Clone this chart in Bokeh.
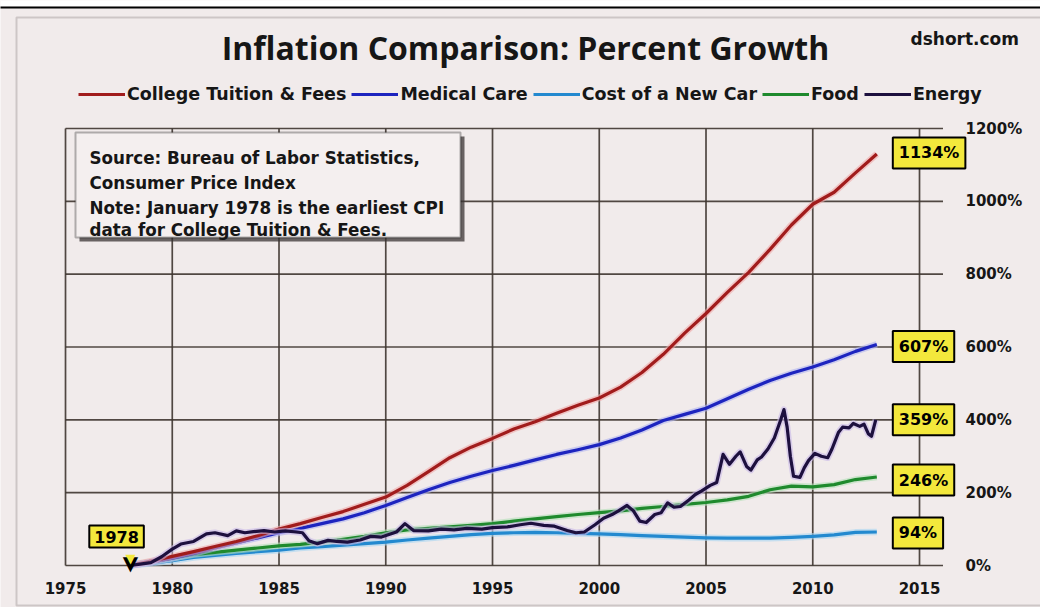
from bokeh.plotting import figure
from bokeh.models import Range1d, FixedTicker, Label, BoxAnnotation, Legend, LegendItem
from bokeh.embed import file_html
from bokeh.resources import INLINE

# ---------------- data (percent growth since Jan 1978) ----------------
years = [1978, 1979, 1980, 1981, 1982, 1983, 1984, 1985, 1986, 1987, 1988, 1989,
         1990, 1991, 1992, 1993, 1994, 1995, 1996, 1997, 1998, 1999, 2000, 2001,
         2002, 2003, 2004, 2005, 2006, 2007, 2008, 2009, 2010, 2011, 2012, 2013]
college = [0, 12, 25, 38, 52, 66, 82, 100, 115, 132, 148, 168,
           188, 220, 258, 296, 325, 349, 375, 395, 418, 440, 460, 490,
           530, 580, 638, 692, 750, 805, 868, 935, 992, 1025, 1078, 1130]
medical = [0, 9, 20, 33, 48, 62, 76, 90, 102, 115, 128, 145,
           165, 187, 208, 228, 245, 261, 275, 290, 305, 318, 332, 350,
           372, 398, 415, 432, 458, 484, 508, 528, 545, 565, 588, 607]
new_car = [0, 6, 13, 22, 28, 33, 38, 42, 48, 52, 56, 60,
           64, 70, 75, 80, 85, 88, 90, 91, 90, 88, 87, 85,
           82, 80, 78, 76, 75, 75, 75, 77, 80, 84, 91, 92]
food = [0, 10, 20, 30, 36, 42, 48, 54, 58, 64, 72, 80,
        90, 98, 102, 106, 110, 115, 122, 128, 134, 140, 145, 150,
        157, 162, 168, 173, 180, 190, 208, 218, 216, 222, 236, 243]
energy_years = [1978.0, 1978.5, 1979.0, 1979.5, 1980.0, 1980.4, 1981.0, 1981.6, 1982.0, 1982.6,
                1983.0, 1983.4, 1983.8, 1984.3, 1984.8, 1985.3, 1985.8, 1986.1, 1986.4, 1986.8,
                1987.3, 1987.7, 1988.2, 1988.8, 1989.3, 1989.8, 1990.5, 1990.9, 1991.3, 1992.0,
                1992.6, 1993.2, 1993.8, 1994.5, 1995.0, 1995.7, 1996.3, 1996.8, 1997.4, 1997.9,
                1998.5, 1998.9, 1999.3, 1999.8, 2000.2, 2000.6, 2000.9, 2001.3, 2001.6, 2001.9,
                2002.2, 2002.6, 2002.9, 2003.2, 2003.5, 2003.8, 2004.2, 2004.5, 2004.8, 2005.2,
                2005.5, 2005.8, 2006.1, 2006.4, 2006.6, 2006.9, 2007.1, 2007.4, 2007.6, 2007.9,
                2008.2, 2008.5, 2008.65, 2008.8, 2008.95, 2009.1, 2009.4, 2009.6, 2009.8, 2010.1,
                2010.4, 2010.7, 2010.9, 2011.2, 2011.4, 2011.7, 2011.9, 2012.2, 2012.4, 2012.6,
                2012.75, 2012.95]
energy = [0, 4, 8, 24, 45, 59, 66, 87, 90, 82,
          95, 90, 93, 96, 92, 95, 92, 90, 68, 60,
          69, 66, 64, 70, 80, 78, 92, 115, 96, 95,
          100, 98, 102, 100, 104, 106, 112, 116, 110, 108,
          96, 90, 92, 112, 130, 140, 150, 165, 150, 122,
          118, 140, 145, 172, 160, 162, 180, 195, 205, 220,
          228, 305, 278, 300, 312, 272, 262, 290, 298, 320,
          350, 400, 428, 380, 300, 245, 242, 268, 288, 308,
          300, 296, 320, 365, 380, 378, 390, 382, 388, 362,
          355, 400]

series_names = ["College Tuition & Fees", "Medical Care", "Cost of a New Car", "Food", "Energy"]
end_labels = ["1134%", "607%", "359%", "246%", "94%"]
start_label = "1978"
year_ticks = [1975, 1980, 1985, 1990, 1995, 2000, 2005, 2010, 2015]
pct_ticks = [0, 200, 400, 600, 800, 1000, 1200]
pct_tick_labels = ["0%", "200%", "400%", "600%", "800%", "1000%", "1200%"]

# ---------------- styling ----------------
BG = "#f1ebeb"
GRID = "#3e3530"
TXT = "#161616"
colors = {"College Tuition & Fees": "#a11c1c", "Medical Care": "#1d24bf",
          "Cost of a New Car": "#2389cf", "Food": "#1f8a2d", "Energy": "#1d103e"}
halo = {"College Tuition & Fees": "#f0a8a8", "Medical Care": "#b0b4f0",
        "Cost of a New Car": "#a8d6f2", "Food": "#b4e0b8", "Energy": "#c8b8e8"}
YELLOW = "#f3e83c"
GRID_RIGHT = 2016.1   # right end of the horizontal grid lines
FH = 607              # frame height (frame covers the whole canvas)

p = figure(width=1040, height=607, output_backend="svg", toolbar_location=None,
           title_location=None,
           x_range=Range1d(1971.955, 2020.667), y_range=Range1d(-115.33, 1551.5),
           y_axis_location="right", min_border_left=0, min_border_right=0,
           min_border_top=0, min_border_bottom=0)
p.background_fill_color = BG
p.border_fill_color = BG
p.outline_line_color = None
p.xgrid.visible = False
p.ygrid.visible = False

# axes (labels pulled back over the frame with negative standoffs)
p.xaxis.ticker = FixedTicker(ticks=year_ticks)
p.yaxis.ticker = FixedTicker(ticks=pct_ticks)
p.yaxis.major_label_overrides = {t: l for t, l in zip(pct_ticks, pct_tick_labels)}
for ax in (p.xaxis[0], p.yaxis[0]):
    ax.axis_line_color = None
    ax.major_tick_line_color = None
    ax.minor_tick_line_color = None
    ax.major_tick_out = 0
    ax.major_tick_in = 0
    ax.major_label_text_font = "DejaVu Sans"
    ax.major_label_text_font_style = "bold"
    ax.major_label_text_font_size = "15px"
    ax.major_label_text_color = TXT
p.xaxis.major_label_standoff = -26
p.yaxis.major_label_standoff = -75

# grid lines (from the tick arrays)
p.segment(x0=year_ticks, x1=year_ticks, y0=[pct_ticks[0]] * len(year_ticks),
          y1=[pct_ticks[-1]] * len(year_ticks), line_color=GRID, line_width=1.7, line_alpha=0.9)
p.segment(x0=[year_ticks[0]] * len(pct_ticks), x1=[GRID_RIGHT] * len(pct_ticks),
          y0=pct_ticks, y1=pct_ticks, line_color=GRID, line_width=1.7, line_alpha=0.9)

# outer decorations (screen units: frame bottom-left origin, y up)
def sbox(**kw):
    return BoxAnnotation(left_units="screen", right_units="screen", top_units="screen",
                         bottom_units="screen", **kw)

p.add_layout(sbox(left=16, right=1100, top=FH - 17, bottom=FH - 605, fill_alpha=0,
                  line_color="#7a6f6f", line_width=2, level="underlay"))
p.add_layout(sbox(left=-5, right=1100, top=FH + 20, bottom=FH - 6, fill_color="white",
                  fill_alpha=1, line_color=None, level="underlay"))
p.add_layout(sbox(left=-5, right=1100, top=FH - 6, bottom=FH - 8, fill_color="black",
                  fill_alpha=1, line_color=None, level="underlay"))

# lines
renderers = {}
draw_order = ["Cost of a New Car", "Food", "Medical Care", "College Tuition & Fees", "Energy"]
data = {"College Tuition & Fees": (years, college), "Medical Care": (years, medical),
        "Cost of a New Car": (years, new_car), "Food": (years, food), "Energy": (energy_years, energy)}
for name in draw_order:
    xs, ys = data[name]
    p.line(xs, ys, line_color=halo[name], line_width=6.5, line_alpha=0.6, line_join="round")
    renderers[name] = p.line(xs, ys, line_color=colors[name], line_width=3.2, line_join="round")

# legend (location = bottom-left corner, frame coordinates)
legend = Legend(items=[LegendItem(label=n, renderers=[renderers[n]]) for n in series_names],
                location=(78, FH - 104), orientation="horizontal", glyph_width=47, glyph_height=20,
                label_height=20, label_standoff=2, spacing=5, padding=0, margin=0,
                border_line_color=None, background_fill_alpha=0,
                label_text_font="DejaVu Sans", label_text_font_style="bold",
                label_text_font_size="17.5px", label_text_color=TXT)
p.add_layout(legend)

# title and site
p.add_layout(Label(x=525, y=FH - 47, x_units="screen", y_units="screen",
                   text="Inflation Comparison: Percent Growth",
                   text_align="center", text_baseline="middle", text_font="Open Sans",
                   text_font_style="bold", text_font_size="32px", text_color=TXT))
p.add_layout(Label(x=910, y=FH - 38, x_units="screen", y_units="screen", text="dshort.com",
                   text_align="left", text_baseline="middle", text_font="DejaVu Sans",
                   text_font_style="bold", text_font_size="17px", text_color=TXT))

# source box
p.add_layout(sbox(left=79, right=464, top=FH - 136, bottom=FH - 241, fill_color="#3a3434",
                  fill_alpha=0.75, line_color=None))
p.add_layout(sbox(left=75, right=460, top=FH - 132, bottom=FH - 237, fill_color="#f4efef",
                  fill_alpha=1, line_color="#111111", line_width=2))
note_lines = ["Source: Bureau of Labor Statistics,", "Consumer Price Index",
              "Note: January 1978  is the earliest CPI", "data for College Tuition & Fees."]
for txt, yy in zip(note_lines, [157, 182, 207, 229]):
    p.add_layout(Label(x=89, y=FH - yy, x_units="screen", y_units="screen", text=txt,
                       text_align="left", text_baseline="middle", text_font="DejaVu Sans",
                       text_font_style="bold", text_font_size="16.75px", text_color=TXT))

# end-value callouts
ends = [(years[-1], college[-1]), (years[-1], medical[-1]), (energy_years[-1], energy[-1]),
        (years[-1], food[-1]), (years[-1], new_car[-1])]
yoffs = [1, -2, 0, -3, -1]
for (ex, ey), lab, yo in zip(ends, end_labels, yoffs):
    p.add_layout(Label(x=years[-1], y=ey, text=lab, x_offset=19, y_offset=yo - 3,
                       text_align="left", text_baseline="middle", text_font="DejaVu Sans",
                       text_font_style="bold", text_font_size="16px", text_alpha=0,
                       background_fill_color="#2e2a2a", background_fill_alpha=0.55, padding=6))
    p.add_layout(Label(x=years[-1], y=ey, text=lab, x_offset=16, y_offset=yo,
                       text_align="left", text_baseline="middle", text_font="DejaVu Sans",
                       text_font_style="bold", text_font_size="16px", text_color="black",
                       background_fill_color=YELLOW, border_line_color="black",
                       border_line_width=2, padding=6))

# 1978 start callout
p.add_layout(Label(x=years[0], y=college[0], text="\u25BC", x_offset=1, y_offset=3,
                   text_align="center", text_baseline="alphabetic", text_font="DejaVu Sans",
                   text_font_size="20px", text_color="black"))
p.add_layout(Label(x=years[0], y=college[0], text="\u25BC", x_offset=1, y_offset=7,
                   text_align="center", text_baseline="alphabetic", text_font="DejaVu Sans",
                   text_font_size="13px", text_color=YELLOW))
p.add_layout(Label(x=years[0], y=college[0], text=start_label, x_offset=-10, y_offset=32,
                   text_align="center", text_baseline="middle", text_font="DejaVu Sans",
                   text_font_style="bold", text_font_size="16px", text_alpha=0,
                   background_fill_color="#2e2a2a", background_fill_alpha=0.55, padding=5))
p.add_layout(Label(x=years[0], y=college[0], text=start_label, x_offset=-13, y_offset=29,
                   text_align="center", text_baseline="middle", text_font="DejaVu Sans",
                   text_font_style="bold", text_font_size="16px", text_color="black",
                   background_fill_color=YELLOW, border_line_color="black",
                   border_line_width=2, padding=5))

open("out.html", "w").write(file_html(p, INLINE))
